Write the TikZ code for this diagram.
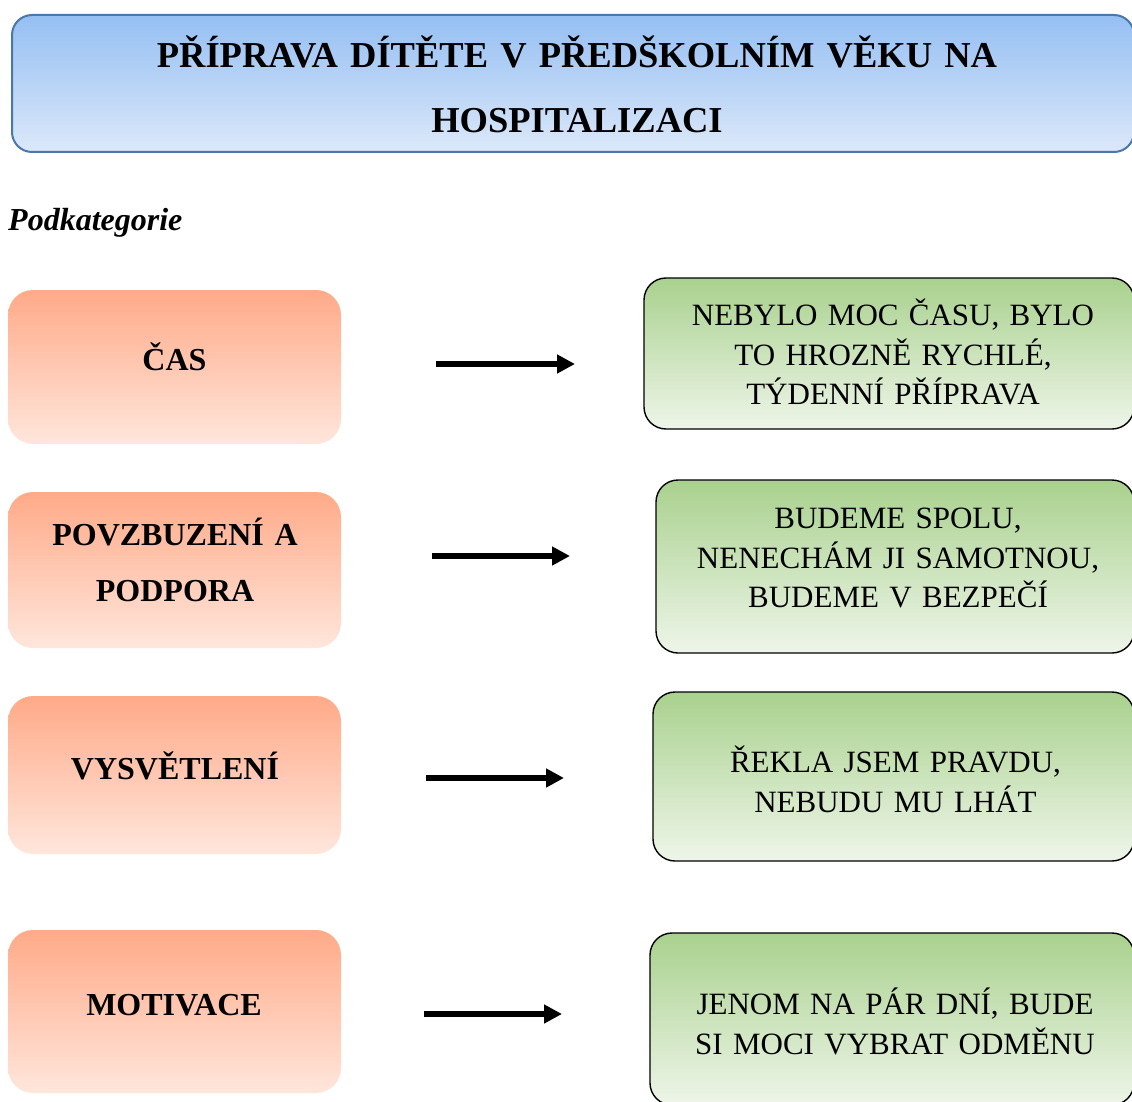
\documentclass[tikz,border=0pt]{standalone}
\usepackage{fontspec}
\setmainfont{Liberation Serif}
\usetikzlibrary{arrows.meta}
\definecolor{blueTop}{RGB}{149,191,243}
\definecolor{blueBot}{RGB}{220,232,249}
\definecolor{blueEdge}{RGB}{74,120,168}
\definecolor{orTop}{RGB}{255,170,136}
\definecolor{orBot}{RGB}{255,230,220}
\definecolor{grTop}{RGB}{169,209,142}
\definecolor{grBot}{RGB}{238,245,233}
\tikzset{
  titlebox/.style={rectangle, rounded corners=20pt, inner sep=0pt, top color=blueTop, bottom color=blueBot, draw=blueEdge, line width=2pt},
  lbox/.style={rectangle, rounded corners=25pt, inner sep=0pt, top color=orTop, bottom color=orBot, minimum width=333pt},
  rbox/.style={rectangle, rounded corners=22pt, inner sep=0pt, top color=grTop, bottom color=grBot, draw=black, line width=1.4pt},
  titletext/.style={anchor=base, inner sep=0pt, text width=1000pt, align=center, font=\fontsize{36.5}{65}\selectfont\bfseries},
  ltext/.style={anchor=base, inner sep=0pt, text width=320pt, align=center, font=\fontsize{32}{56}\selectfont\bfseries},
  rtext/.style={anchor=base, inner sep=0pt, text width=470pt, align=center, font=\fontsize{31}{39.5}\selectfont},
  arr/.style={line width=6pt, -{Triangle[length=18pt,width=18pt]}}
}
\begin{document}
\begin{tikzpicture}[x=1pt,y=-1pt]
\useasboundingbox (0,0) rectangle (1132,1102);
\clip (0,0) rectangle (1132,1102);
% title
\node[titlebox, minimum width=1122pt, minimum height=137pt] (title) at (573,83.5) {};
\node[titletext] (titletxt) at (577,68) {PŘÍPRAVA DÍTĚTE V PŘEDŠKOLNÍM VĚKU NA\\HOSPITALIZACI};
\node[anchor=base west, inner sep=0pt, font=\fontsize{32}{38}\selectfont\bfseries\itshape] (sub) at (8,230) {Podkategorie};
% left boxes
\node[lbox, minimum height=154pt] (l1) at (174.5,367) {};
\node[lbox, minimum height=156pt] (l2) at (174.5,570) {};
\node[lbox, minimum height=158pt] (l3) at (174.5,775) {};
\node[lbox, minimum height=163pt] (l4) at (174.5,1011.5) {};
\node[ltext] (lt1) at (174.5,370) {ČAS};
\node[ltext] (lt2) at (175,545) {POVZBUZENÍ A\\PODPORA};
\node[ltext] (lt3) at (175,779) {VYSVĚTLENÍ};
\node[ltext] (lt4) at (174,1015) {MOTIVACE};
% right boxes
\node[rbox, minimum width=490pt, minimum height=151pt] (r1) at (889,353.5) {};
\node[rbox, minimum width=478pt, minimum height=173pt] (r2) at (895,566.5) {};
\node[rbox, minimum width=481pt, minimum height=169pt] (r3) at (893.5,776.5) {};
\node[rbox, minimum width=484pt, minimum height=172pt] (r4) at (892,1019) {};
\node[rtext] (rt1) at (893,325.5) {NEBYLO MOC ČASU, BYLO\\TO HROZNĚ RYCHLÉ,\\TÝDENNÍ PŘÍPRAVA};
\node[rtext] (rt2) at (898,528.5) {BUDEME SPOLU,\\NENECHÁM JI SAMOTNOU,\\BUDEME V BEZPEČÍ};
\node[rtext] (rt3) at (895.5,772.5) {ŘEKLA JSEM PRAVDU,\\NEBUDU MU LHÁT};
\node[rtext] (rt4) at (895,1014.5) {JENOM NA PÁR DNÍ, BUDE\\SI MOCI VYBRAT ODMĚNU};
% arrows
\coordinate (a1s) at (436,364); \coordinate (a1e) at (575,364);
\coordinate (a2s) at (432,556); \coordinate (a2e) at (570,556);
\coordinate (a3s) at (426,778); \coordinate (a3e) at (564,778);
\coordinate (a4s) at (424,1014); \coordinate (a4e) at (562,1014);
\draw[arr] (a1s) -- (a1e);
\draw[arr] (a2s) -- (a2e);
\draw[arr] (a3s) -- (a3e);
\draw[arr] (a4s) -- (a4e);
\end{tikzpicture}
\end{document}
